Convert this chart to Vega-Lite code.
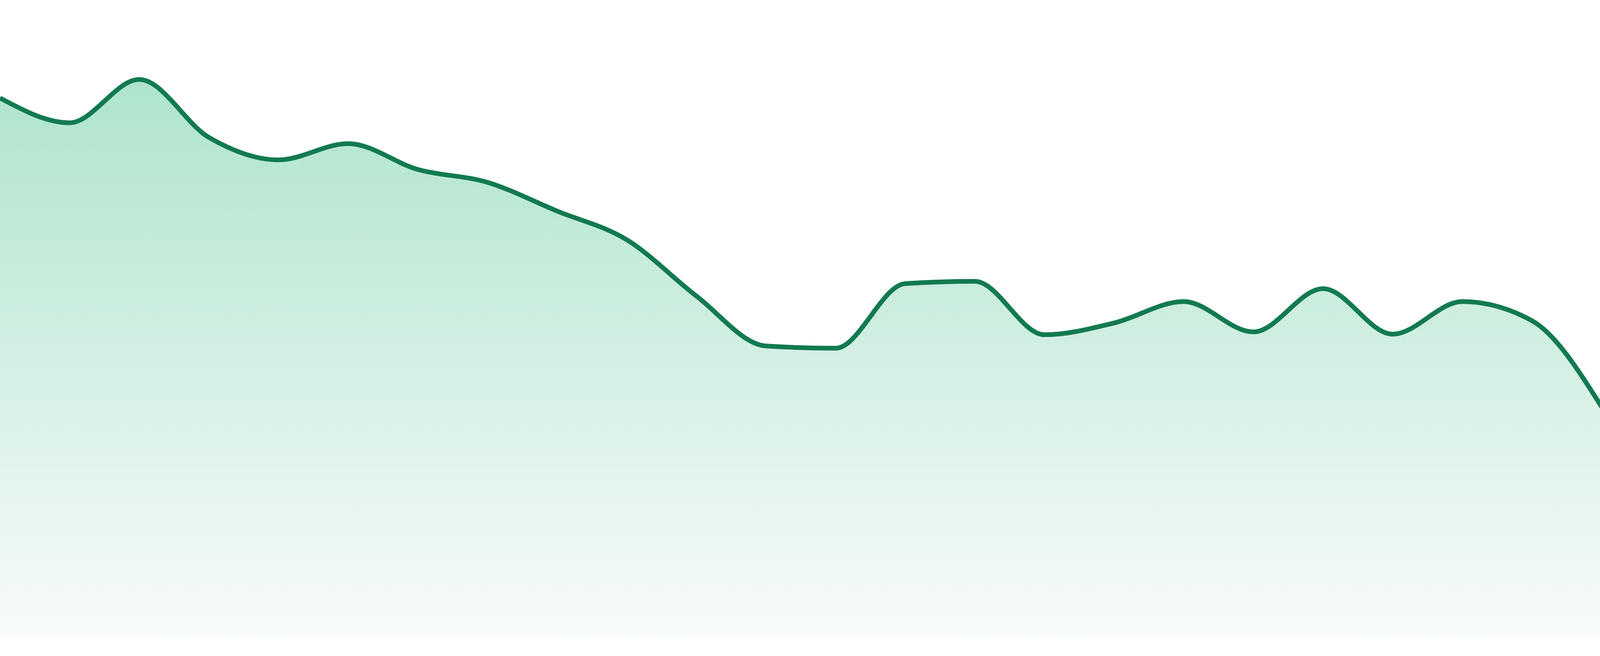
{
  "$schema": "https://vega.github.io/schema/vega-lite/v6.json",
  "width": 4100,
  "height": 1680,
  "autosize": {"type": "none"},
  "padding": 0,
  "background": "white",
  "config": {"view": {"stroke": null}},
  "data": {
    "values": [
      {"i": 0, "v": 95.9},
      {"i": 1, "v": 91.5},
      {"i": 2, "v": 99.2},
      {"i": 3, "v": 88.9},
      {"i": 4, "v": 84.9},
      {"i": 5, "v": 87.8},
      {"i": 6, "v": 83.2},
      {"i": 7, "v": 80.9},
      {"i": 8, "v": 75.8},
      {"i": 9, "v": 70.7},
      {"i": 10, "v": 60.7},
      {"i": 11, "v": 51.8},
      {"i": 12, "v": 51.4},
      {"i": 13, "v": 62.9},
      {"i": 14, "v": 63.3},
      {"i": 15, "v": 53.8},
      {"i": 16, "v": 55.9},
      {"i": 17, "v": 59.7},
      {"i": 18, "v": 54.3},
      {"i": 19, "v": 62.0},
      {"i": 20, "v": 53.9},
      {"i": 21, "v": 59.7},
      {"i": 22, "v": 56.3},
      {"i": 23, "v": 41.0}
    ]
  },
  "encoding": {
    "x": {
      "field": "i",
      "type": "quantitative",
      "scale": {"domain": [0, 23], "nice": false, "zero": false},
      "axis": null
    },
    "y": {
      "field": "v",
      "type": "quantitative",
      "scale": {"domain": [-3.3333, 113.3333], "nice": false, "zero": false},
      "axis": null
    }
  },
  "layer": [
    {
      "mark": {
        "type": "area",
        "interpolate": "monotone",
        "color": {
          "gradient": "linear",
          "x1": 0, "y1": 0, "x2": 0, "y2": 1,
          "stops": [
            {"offset": 0, "color": "#AEE4CC"},
            {"offset": 1, "color": "#F8FBFA"}
          ]
        }
      },
      "encoding": {"y2": {"datum": 0}}
    },
    {
      "mark": {
        "type": "line",
        "interpolate": "monotone",
        "color": "#127A50",
        "strokeWidth": 12
      }
    }
  ]
}
